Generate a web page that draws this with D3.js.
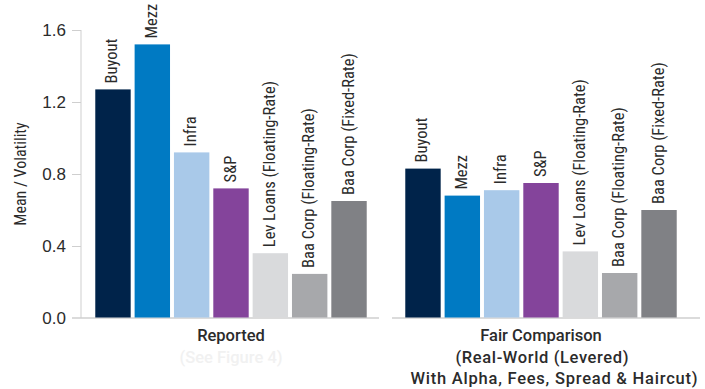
<!DOCTYPE html>
<html>
<head>
<meta charset="utf-8">
<script src="https://cdn.jsdelivr.net/npm/d3@7"></script>
<style>
  html, body { margin: 0; padding: 0; background: #fff; }
  svg { display: block; }
</style>
</head>
<body>
<svg id="chart" width="705" height="389"></svg>
<script>
const groups = ["Reported", "Fair Comparison"];
const groupLabelLines = [
  ["Reported", "(See Figure 4)"],
  ["Fair Comparison", "(Real-World (Levered)", "With Alpha, Fees, Spread & Haircut)"]
];
const categories = ["Buyout", "Mezz", "Infra", "S&P", "Lev Loans (Floating-Rate)", "Baa Corp (Floating-Rate)", "Baa Corp (Fixed-Rate)"];
const reportedValues = [1.27, 1.52, 0.92, 0.72, 0.36, 0.245, 0.65];
const fairValues = [0.83, 0.68, 0.71, 0.75, 0.37, 0.25, 0.60];
const yTicks = [0.0, 0.4, 0.8, 1.2, 1.6];
const colors = ["#00234a", "#007ac3", "#a9c9e9", "#84449b", "#d9dadc", "#a7a8ab", "#808185"];

const seriesByGroup = [reportedValues, fairValues];

const svg = d3.select("#chart");
const condensed = "'Roboto Condensed', 'DejaVu Sans Condensed', sans-serif";
const textColor = "#2b2b2b";

const y = d3.scaleLinear().domain([0, 1.6]).range([318, 30]);
const x0 = d3.scaleBand().domain(groups).range([76, 696]);
const x1 = d3.scaleBand().domain(categories).range([0, x0.bandwidth()]).paddingInner(0.1).paddingOuter(0.49);

// y axis
const yAxis = d3.axisLeft(y).tickValues(yTicks).tickFormat(d3.format(".1f")).tickSize(9).tickPadding(6);
const ya = svg.append("g").attr("transform", "translate(81,0)").call(yAxis);
ya.select(".domain").attr("stroke", "#cfcfcf").attr("d", `M0,${y(1.6)}V${y(0)}`);
ya.selectAll(".tick line").attr("stroke", "#cfcfcf");
ya.selectAll(".tick text").attr("fill", textColor).style("font-family", "'Liberation Sans', Arial, sans-serif").style("font-size", "17px");
ya.selectAll(".tick").filter(d => d === 0).select("line").remove();

// axis title
svg.append("text")
  .attr("transform", `translate(26,${(y(0) + y(1.6)) / 2}) rotate(-90)`)
  .attr("text-anchor", "middle")
  .style("font-family", condensed).style("font-size", "16px").attr("fill", textColor)
  .text("Mean / Volatility");

// groups
const g = svg.selectAll("g.grp").data(groups).enter().append("g")
  .attr("class", "grp")
  .attr("transform", d => `translate(${x0(d)},0)`);

// baseline segments
g.append("line")
  .attr("x1", (d, i) => i === 0 ? 72 - x0(d) : 6)
  .attr("x2", (d, i) => i === 0 ? x0.bandwidth() - 7 : x0.bandwidth() + 4)
  .attr("y1", y(0)).attr("y2", y(0))
  .attr("stroke", "#cfcfcf").attr("stroke-width", 1.5);

// per-line label layout tweaks (group 2 lines are set wider in the original)
const lineFit = { "1-1": { len: 173, dx: 1 }, "1-2": { len: 287, dx: 13 } };

g.each(function (grp, gi) {
  const data = categories.map((c, i) => ({ cat: c, v: seriesByGroup[gi][i], color: colors[i] }));
  const sel = d3.select(this);
  sel.selectAll("rect").data(data).enter().append("rect")
    .attr("x", d => x1(d.cat))
    .attr("width", x1.bandwidth())
    .attr("y", d => y(d.v))
    .attr("height", d => y(0) - y(d.v) - 0.5)
    .attr("fill", d => d.color);
  sel.selectAll("text.lbl").data(data).enter().append("text")
    .attr("class", "lbl")
    .attr("transform", d => `translate(${x1(d.cat) + x1.bandwidth() / 2 + 4.5},${y(d.v) - 6}) rotate(-90)`)
    .attr("text-anchor", "start")
    .style("font-family", condensed).style("font-size", "16.5px").attr("fill", textColor)
    .text(d => d.cat);

  const lines = groupLabelLines[gi];
  sel.selectAll("text.glbl").data(lines).enter().append("text")
    .attr("class", "glbl")
    .attr("x", x0.bandwidth() / 2)
    .attr("y", (d, i) => 341 + i * 21.5)
    .attr("text-anchor", "middle")
    .style("font-family", "'Roboto', 'Liberation Sans', sans-serif").style("font-size", "16.5px")
    .style("font-weight", "500")
    .attr("fill", (d, i) => (gi === 0 && i === 1) ? "#f1f1f1" : textColor)
    .each(function (d, i) {
      const fit = lineFit[gi + "-" + i];
      if (fit) d3.select(this).attr("dx", fit.dx).attr("textLength", fit.len).attr("lengthAdjust", "spacing");
    })
    .text(d => d);
});
</script>
</body>
</html>
